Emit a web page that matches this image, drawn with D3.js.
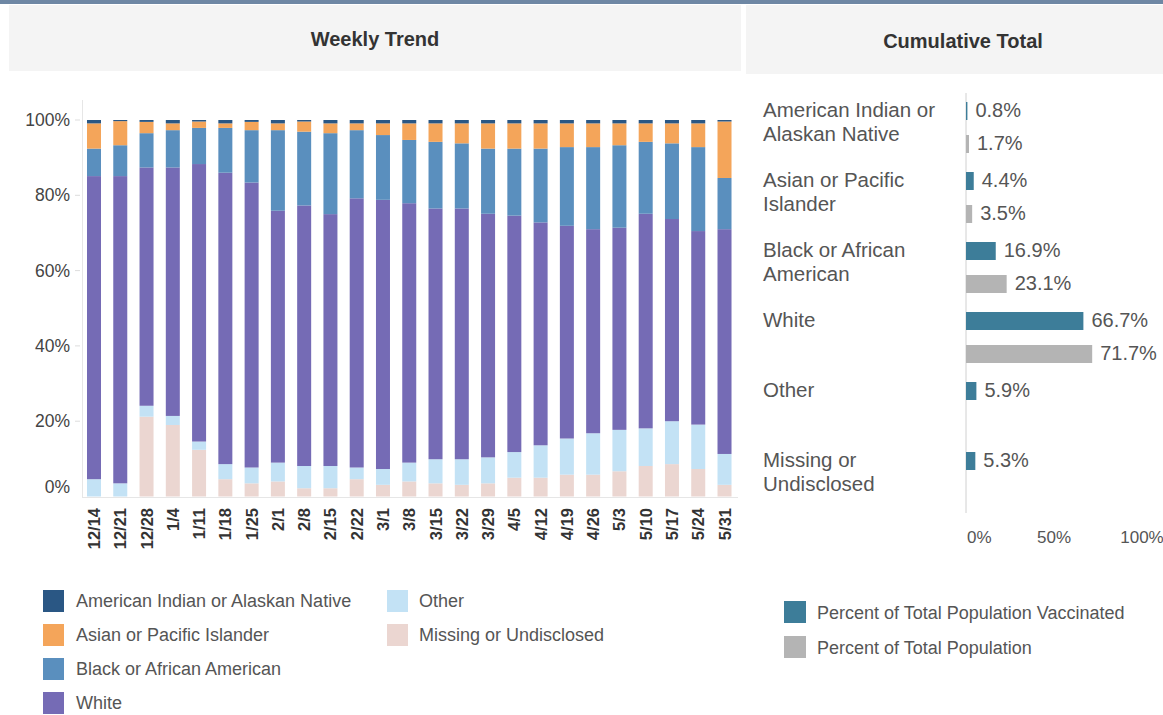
<!DOCTYPE html>
<html>
<head>
<meta charset="utf-8">
<script src="https://cdn.jsdelivr.net/npm/d3@7/dist/d3.min.js"></script>
<style>
  html, body { margin: 0; padding: 0; background: #ffffff; }
  svg { display: block; font-family: "Liberation Sans", Arial, sans-serif; }
</style>
</head>
<body>
<svg id="chart" width="1163" height="715"></svg>
<script>
// ---------- DATA ----------
const weeks = ["12/14","12/21","12/28","1/4","1/11","1/18","1/25","2/1","2/8","2/15","2/22","3/1","3/8","3/15","3/22","3/29","4/5","4/12","4/19","4/26","5/3","5/10","5/17","5/24","5/31"];
const missing = [0,0,21.2,19.0,12.4,4.6,3.5,4.0,2.2,2.2,4.6,3.1,4.0,3.5,3.1,3.5,5.0,5.0,5.8,5.8,6.7,8.1,8.6,7.3,3.1];
const other   = [4.6,3.5,2.9,2.4,2.2,4.0,4.2,5.0,5.9,5.9,3.1,4.2,5.0,6.4,6.8,6.9,6.8,8.6,9.6,11.0,11.0,10.0,11.4,11.8,8.2];
const white   = [80.5,81.6,63.3,66.0,73.7,77.4,75.7,66.9,69.2,66.9,71.5,71.5,68.9,66.6,66.6,64.7,62.8,59.2,56.5,54.2,53.7,57.0,53.7,51.4,59.7];
const black   = [7.3,8.2,9.1,9.9,9.6,11.9,13.9,21.4,19.6,21.5,18.1,17.2,16.8,17.7,17.3,17.3,17.8,19.6,20.9,21.8,21.9,19.1,20.1,22.3,13.6];
const asian   = [6.7,6.4,3.0,1.8,1.7,1.2,2.2,1.8,2.7,2.6,1.8,3.1,4.4,4.9,5.3,6.7,6.7,6.7,6.3,6.3,5.8,4.9,5.3,6.3,15.0];
const aian    = [0.9,0.3,0.5,0.9,0.4,0.9,0.5,0.9,0.4,0.9,0.9,0.9,0.9,0.9,0.9,0.9,0.9,0.9,0.9,0.9,0.9,0.9,0.9,0.9,0.4];

const seriesNames = ["Missing or Undisclosed","Other","White","Black or African American","Asian or Pacific Islander","American Indian or Alaskan Native"];
const seriesValues = [missing, other, white, black, asian, aian];
const seriesColors = ["#ebd6d1","#c3e2f5","#756bb5","#5a8fbe","#f4a55a","#2a5784"];

const yTicks = [0,20,40,60,80,100];

const cumCategories = ["American Indian or Alaskan Native","Asian or Pacific Islander","Black or African American","White","Other","Missing or Undisclosed"];
const cumLabelLines = [["American Indian or","Alaskan Native"],["Asian or Pacific","Islander"],["Black or African","American"],["White"],["Other"],["Missing or","Undisclosed"]];
const vaccinated = [0.8,4.4,16.9,66.7,5.9,5.3];
const population = [1.7,3.5,23.1,71.7,null,null];
const cumTicks = [0,50,100];

const legendLeftOrder = ["American Indian or Alaskan Native","Asian or Pacific Islander","Black or African American","White","Other","Missing or Undisclosed"];
const legendRight = ["Percent of Total Population Vaccinated","Percent of Total Population"];
const vaccColor = "#3d7d99", popColor = "#b4b4b4";

// ---------- SVG ----------
const svg = d3.select("#chart");
const textColor = "#555555";

// header
svg.append("rect").attr("x",0).attr("y",0).attr("width",1163).attr("height",4).attr("fill","#6e87a4");
svg.append("rect").attr("x",9).attr("y",5).attr("width",732).attr("height",66).attr("fill","#f4f4f4");
svg.append("rect").attr("x",746).attr("y",5).attr("width",417).attr("height",69).attr("fill","#f4f4f4");
svg.append("text").attr("x",375).attr("y",46).attr("text-anchor","middle")
  .attr("font-size",20).attr("font-weight","bold").attr("fill","#333").text("Weekly Trend");
svg.append("text").attr("x",963).attr("y",48).attr("text-anchor","middle")
  .attr("font-size",20).attr("font-weight","bold").attr("fill","#333").text("Cumulative Total");

// ---------- Weekly trend stacked bars ----------
const x = d3.scaleBand().domain(weeks).range([82, 736.5]).paddingInner(0.467).paddingOuter(0.19);
const y = d3.scaleLinear().domain([0,100]).range([496.5, 120]);

// axes lines
svg.append("line").attr("x1",82.5).attr("x2",82.5).attr("y1",100).attr("y2",497).attr("stroke","#e6e6e6");
svg.append("line").attr("x1",82).attr("x2",738).attr("y1",497.5).attr("y2",497.5).attr("stroke","#e6e6e6");

const table = weeks.map((w,i) => {
  const o = {week: w};
  seriesNames.forEach((s,k) => o[s] = seriesValues[k][i]);
  return o;
});
const stacked = d3.stack().keys(seriesNames)(table);

svg.append("g").selectAll("g").data(stacked).join("g")
  .attr("fill", (d,i) => seriesColors[i])
  .selectAll("rect").data(d => d).join("rect")
  .attr("x", d => x(d.data.week))
  .attr("width", x.bandwidth())
  .attr("y", d => y(d[1]))
  .attr("height", d => y(d[0]) - y(d[1]));

// y ticks
const yg = svg.append("g");
yTicks.forEach(t => {
  const yy = y(t);
  if (t > 0) yg.append("line").attr("x1",75).attr("x2",80).attr("y1",yy).attr("y2",yy).attr("stroke","#dddddd");
  yg.append("text").attr("x",70).attr("y", t === 0 ? yy - 10 : yy).attr("dy","0.35em")
    .attr("text-anchor","end").attr("font-size",17.5).attr("fill","#444").text(t + "%");
});

// x labels rotated
svg.append("g").selectAll("text").data(weeks).join("text")
  .attr("transform", d => `translate(${x(d) + x.bandwidth()/2 + 6},508) rotate(-90)`)
  .attr("text-anchor","end").attr("font-size",16.5).attr("font-weight","bold").attr("fill","#333")
  .text(d => d);

// left legend
const legPos = [[43,590],[43,624],[43,658],[43,692],[387,590],[387,624]];
legendLeftOrder.forEach((name,i) => {
  const [lx,ly] = legPos[i];
  const col = seriesColors[seriesNames.indexOf(name)];
  svg.append("rect").attr("x",lx).attr("y",ly).attr("width",21).attr("height",22).attr("fill",col);
  svg.append("text").attr("x", lx + (i<4 ? 33 : 32)).attr("y", ly + 11).attr("dy","0.35em")
    .attr("font-size",18).attr("fill",textColor).text(name);
});

// ---------- Cumulative total ----------
const cx = d3.scaleLinear().domain([0,100]).range([966, 1142]);
const cy = d3.scaleBand().domain(cumCategories).range([97, 517]);

svg.append("line").attr("x1",966).attr("x2",966).attr("y1",93).attr("y2",513).attr("stroke","#d0d0d0");

cumCategories.forEach((c,i) => {
  const top = cy(c);
  cumLabelLines[i].forEach((ln,j) => {
    svg.append("text").attr("x",763).attr("y", top + 13 + j*24).attr("dy","0.35em")
      .attr("font-size",20.5).attr("fill",textColor).text(ln);
  });
  svg.append("rect").attr("x",cx(0)).attr("y",top+5).attr("width",cx(vaccinated[i]) - cx(0)).attr("height",18).attr("fill",vaccColor);
  svg.append("text").attr("x",cx(vaccinated[i]) + 8).attr("y",top+13).attr("dy","0.35em")
    .attr("font-size",20).attr("fill",textColor).text(vaccinated[i].toFixed(1) + "%");
  if (population[i] != null) {
    svg.append("rect").attr("x",cx(0)).attr("y",top+38).attr("width",cx(population[i]) - cx(0)).attr("height",18).attr("fill",popColor);
    svg.append("text").attr("x",cx(population[i]) + 8).attr("y",top+46).attr("dy","0.35em")
      .attr("font-size",20).attr("fill",textColor).text(population[i].toFixed(1) + "%");
  }
});

cumTicks.forEach(t => {
  svg.append("text").attr("x", t === 0 ? cx(t) + 1 : cx(t)).attr("y",537).attr("dy","0.35em")
    .attr("text-anchor", t === 0 ? "start" : "middle")
    .attr("font-size",17).attr("fill",textColor).text(t + "%");
});

// right legend
legendRight.forEach((name,i) => {
  const ly = 601 + i*35;
  svg.append("rect").attr("x",784).attr("y",ly).attr("width",22).attr("height",22).attr("fill", i===0 ? vaccColor : popColor);
  svg.append("text").attr("x",817).attr("y",ly+12).attr("dy","0.35em")
    .attr("font-size",18).attr("fill",textColor).text(name);
});
</script>
</body>
</html>
